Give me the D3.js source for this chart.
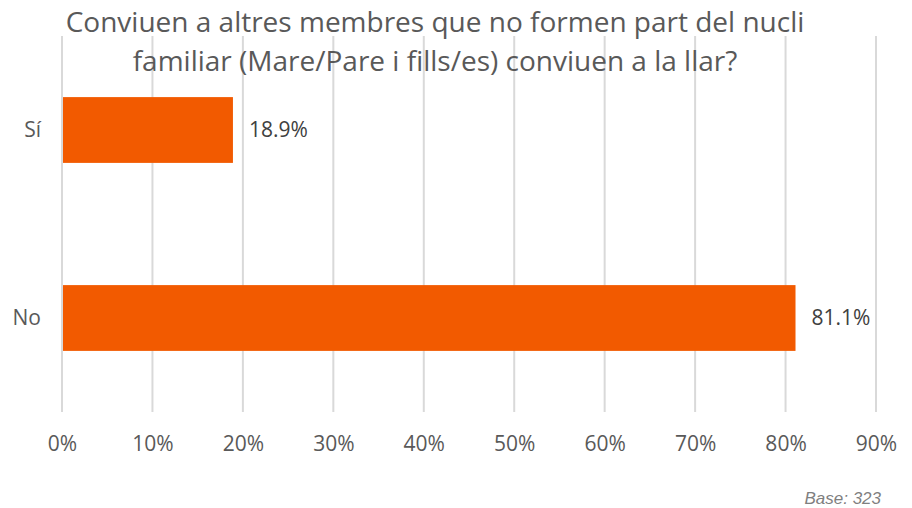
<!DOCTYPE html>
<html>
<head>
<meta charset="utf-8">
<script src="https://d3js.org/d3.v7.min.js"></script>
<style>
  html, body { margin: 0; padding: 0; background: #fff; }
  #chart { width: 912px; height: 508px; }
</style>
</head>
<body>
<div id="chart"></div>
<script>
const titleLines = [
  "Conviuen a altres membres que no formen part del nucli",
  "familiar (Mare/Pare i fills/es) conviuen a la llar?"
];
const categories = ["Sí", "No"];
const values = [18.9, 81.1];
const xTicks = [0, 10, 20, 30, 40, 50, 60, 70, 80, 90];
const baseNote = "Base: 323";

const width = 912, height = 508;
const margin = { top: 36, right: 36, bottom: 96, left: 62 };
const font = "'Open Sans', 'Noto Sans', sans-serif";
const textColor = "#595959";

const svg = d3.select("#chart").append("svg")
  .attr("width", width)
  .attr("height", height)
  .style("font-family", font);

const x = d3.scaleLinear()
  .domain([0, 90])
  .range([margin.left, width - margin.right]);

const y = d3.scaleBand()
  .domain(categories)
  .range([margin.top, height - margin.bottom])
  .paddingInner(0.65)
  .paddingOuter(0.325);

// gridlines
svg.append("g")
  .selectAll("line")
  .data(xTicks)
  .join("line")
  .attr("x1", d => x(d))
  .attr("x2", d => x(d))
  .attr("y1", margin.top)
  .attr("y2", height - margin.bottom)
  .attr("stroke", "#d9d9d9")
  .attr("stroke-width", 2);

// bars
svg.append("g")
  .selectAll("rect")
  .data(categories)
  .join("rect")
  .attr("x", x(0) + 1)
  .attr("y", d => y(d))
  .attr("width", (d, i) => x(values[i]) - x(0) - 1)
  .attr("height", y.bandwidth())
  .attr("fill", "#f25a00");

// value labels
svg.append("g")
  .selectAll("text")
  .data(categories)
  .join("text")
  .attr("x", (d, i) => x(values[i]) + 16)
  .attr("y", d => y(d) + y.bandwidth() / 2)
  .attr("dy", "0.35em")
  .attr("font-size", 21)
  .attr("fill", "#404040")
  .text((d, i) => values[i].toFixed(1) + "%");

// category labels
svg.append("g")
  .selectAll("text")
  .data(categories)
  .join("text")
  .attr("x", 41)
  .attr("y", d => y(d) + y.bandwidth() / 2)
  .attr("dy", "0.35em")
  .attr("text-anchor", "end")
  .attr("font-size", 21)
  .attr("fill", textColor)
  .text(d => d);

// x axis tick labels
const xAxis = d3.axisBottom(x)
  .tickValues(xTicks)
  .tickFormat(d => d + "%")
  .tickSize(0)
  .tickPadding(0);

const axisG = svg.append("g")
  .attr("transform", `translate(0,${height - margin.bottom + 24})`)
  .call(xAxis);
axisG.select(".domain").remove();
axisG.selectAll("text")
  .attr("font-family", font)
  .attr("font-size", 21)
  .attr("fill", textColor);

// title
svg.append("g")
  .selectAll("text")
  .data(titleLines)
  .join("text")
  .attr("x", 435)
  .attr("y", (d, i) => 32 + i * 39)
  .attr("text-anchor", "middle")
  .attr("font-size", 28)
  .attr("fill", textColor)
  .text(d => d);

// base note
svg.append("text")
  .attr("x", 881)
  .attr("y", 504)
  .attr("text-anchor", "end")
  .attr("font-family", "'Liberation Sans', Arial, sans-serif")
  .attr("font-style", "italic")
  .attr("font-size", 17)
  .attr("fill", "#7f7f7f")
  .text(baseNote);
</script>
</body>
</html>
